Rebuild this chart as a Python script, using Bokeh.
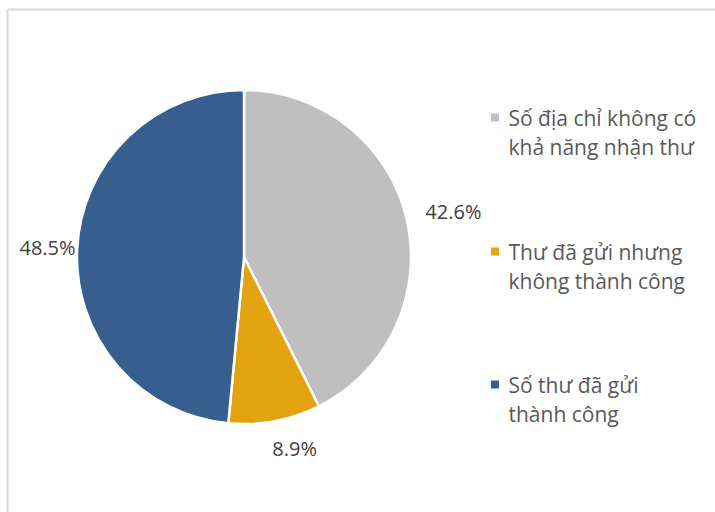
import math
from bokeh.plotting import figure
from bokeh.models import Range1d, ColumnDataSource
from bokeh.core.properties import value
from bokeh.embed import file_html
from bokeh.resources import INLINE

# ---- data ----
categories = ["Số địa chỉ không có\nkhả năng nhận thư",
              "Thư đã gửi nhưng\nkhông thành công",
              "Số thư đã gửi\nthành công"]
shares = [42.6, 8.9, 48.5]
pct_labels = ["42.6%", "8.9%", "48.5%"]
colors = ["#BFBFBF", "#E2A30F", "#365F8F"]

# ---- layout (page pixels) ----
W, H = 715, 512
def X(px):  # page x -> data x
    return px
def Y(py):  # page y -> data y
    return H - py

cx, cy, R = 243.5, 256.5, 167
label_factor = 1.19
label_nudge = [(16, 0), (14, -4), (2, 0)]  # page px nudges
font = "Open Sans"

p = figure(width=W, height=H, output_backend="svg", toolbar_location=None,
           x_range=Range1d(0, W), y_range=Range1d(0, H), min_border=0)
p.axis.visible = False
p.grid.visible = False
p.outline_line_color = None
p.background_fill_color = "white"
p.border_fill_color = "white"

# frame (left and top edges visible)
p.segment(x0=[X(7), X(7)], y0=[Y(9), Y(9)], x1=[X(7), X(W + 5)], y1=[Y(H + 5), Y(9)],
          line_color="#D9D9D9", line_width=2)

total = sum(shares)
starts, ends, mids = [], [], []
a = math.pi / 2
for s in shares:
    sweep = 2 * math.pi * s / total
    starts.append(a)
    ends.append(a - sweep)
    mids.append(a - sweep / 2)
    a -= sweep

src = ColumnDataSource(dict(start=starts, end=ends, color=colors))
p.wedge(x=X(cx), y=Y(cy), radius=R, radius_units="screen",
        start_angle="start", end_angle="end", direction="clock",
        fill_color="color", line_color="white", line_width=2.5, source=src)

lx, ly = [], []
for m, (nx, ny) in zip(mids, label_nudge):
    px = cx + label_factor * R * math.cos(m) + nx
    py = cy - label_factor * R * math.sin(m) + ny
    lx.append(X(px)); ly.append(Y(py))
p.text(x=lx, y=ly, text=pct_labels, text_font=value(font), text_font_size="20px",
       text_color="#404040", text_align="center", text_baseline="middle")

# legend
leg_x_marker = 494.5
leg_x_text = 508
leg_y = [117, 251, 384]
line_gap = 29
mx, my, tx, ty, tt = [], [], [], [], []
for c, yv in zip(categories, leg_y):
    mx.append(X(leg_x_marker)); my.append(Y(yv))
    for i, line in enumerate(c.split("\n")):
        tx.append(X(leg_x_text)); ty.append(Y(yv + i * line_gap)); tt.append(line)
p.scatter(x=mx, y=my, marker="square", size=8, fill_color=colors, line_color=None)
p.text(x=tx, y=ty, text=tt, text_font=value(font), text_font_size="21px",
       text_color="#595959", text_align="left", text_baseline="middle")

open("out.html", "w").write(file_html(p, INLINE))
